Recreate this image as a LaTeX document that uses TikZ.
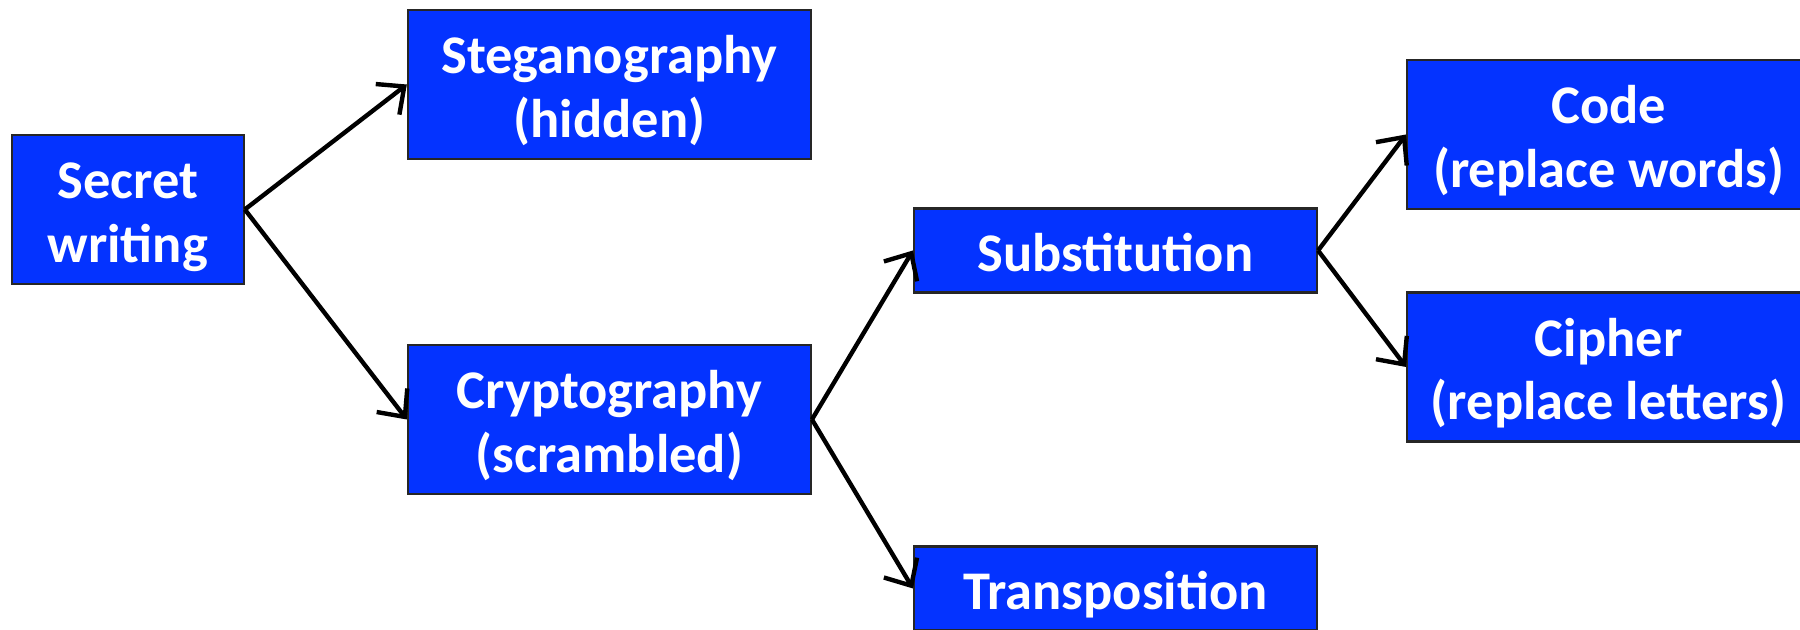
\documentclass[tikz,border=0pt]{standalone}
\usepackage{fontspec}
\setmainfont{Carlito}
\usetikzlibrary{arrows.meta,positioning}
\definecolor{boxblue}{RGB}{4,51,255}

\begin{document}
\begin{tikzpicture}[
  node distance=10mm and 10mm,
  box/.style={draw=black!85,line width=0.6pt,fill=boxblue,text=white,align=center,minimum width=40.3mm,minimum height=14.9mm,inner sep=0pt,font=\fontsize{15.5}{18}\selectfont\bfseries,text height=33.9pt,text depth=4pt},
  slim/.style={box,minimum height=8.4mm,text height=15.9pt},
  arr/.style={-{Straight Barb[length=6pt,width=11pt]},line width=1.25pt}
]
\clip (0,0) rectangle (18,6.3);
\node[box,minimum width=23.2mm] (secret) at (1.278,4.205) {Secret\\writing};
\node[box,right=16.2mm of secret,yshift=12.5mm] (steg) {Steganography\\(hidden)};
\node[box,right=16.2mm of secret,yshift=-21mm] (crypt) {Cryptography\\(scrambled)};
\node[slim,right=10.1mm of crypt,yshift=16.9mm] (subst) {Substitution};
\node[slim,right=10.1mm of crypt,yshift=-16.9mm] (transp) {Transposition};
\node[box,right=8.8mm of subst,yshift=11.6mm] (code) {Code\\(replace words)};
\node[box,right=8.8mm of subst,yshift=-11.65mm] (cipher) {Cipher\\(replace letters)};
\draw[arr] (secret.east) -- (steg.west);
\draw[arr] (secret.east) -- (crypt.west);
\draw[arr] (crypt.east) -- (subst.west);
\draw[arr] (crypt.east) -- (transp.west);
\draw[arr] (subst.east) -- (code.west);
\draw[arr] (subst.east) -- (cipher.west);
\end{tikzpicture}
\end{document}
